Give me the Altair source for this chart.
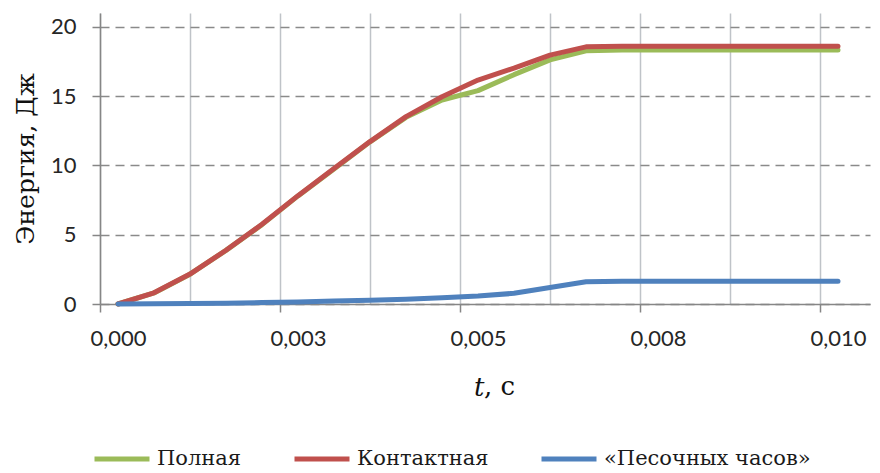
import altair as alt
import pandas as pd

# ---- data ----
t_values = [0.0, 0.0005, 0.001, 0.0015, 0.002, 0.0025, 0.003, 0.0035, 0.004, 0.0045,
            0.005, 0.0055, 0.006, 0.0065, 0.007, 0.0075, 0.008, 0.0085, 0.009, 0.0095, 0.010]
total = [0.0, 0.80, 2.15, 3.87, 5.73, 7.80, 9.75, 11.70, 13.47, 14.72,
         15.40, 16.55, 17.62, 18.27, 18.33, 18.33, 18.33, 18.33, 18.33, 18.33, 18.33]
contact = [0.0, 0.81, 2.16, 3.88, 5.75, 7.82, 9.77, 11.72, 13.52, 14.96,
           16.16, 17.02, 17.96, 18.56, 18.60, 18.60, 18.60, 18.60, 18.60, 18.60, 18.60]
hourglass = [0.0, 0.01, 0.03, 0.06, 0.10, 0.15, 0.21, 0.27, 0.34, 0.45,
             0.58, 0.77, 1.19, 1.61, 1.64, 1.64, 1.64, 1.64, 1.65, 1.65, 1.65]
series_names = ["Полная", "Контактная", "«Песочных часов»"]
series_colors = ["#9BBB59", "#C0504D", "#4F81BD"]
y_ticks = [0, 5, 10, 15, 20]

rows = []
for name, vals in zip(series_names, [total, contact, hourglass]):
    for t, v in zip(t_values, vals):
        rows.append({"t": t, "E": v, "series": name})
df = pd.DataFrame(rows)

# ---- layout ----
W, H = 770, 291
step = 0.0005          # category step of the Excel axis
px_per_step = 36.0
x_min = -step / 2
x_max = x_min + W / px_per_step * step
grid_vals = [x_min + k * step * 2.5 for k in range(9)]
major_test = "round((datum.value + 0.00025) / 0.00125) % 2 == 0"

LABEL_FONT = "Lato"
SERIF = "DejaVu Serif"

color = alt.Color(
    "series:N",
    scale=alt.Scale(domain=series_names, range=series_colors),
    legend=alt.Legend(
        title=None, orient="none", direction="horizontal",
        legendX=-8, legendY=416, padding=0,
        symbolType="stroke", symbolSize=3025, symbolStrokeWidth=5,
        labelFont=SERIF, labelFontSize=21, labelColor="#1a1a1a",
        labelOffset=5, columnPadding=42, labelLimit=400,
    ),
)

x_enc = alt.X(
    "t:Q",
    scale=alt.Scale(domain=[x_min, x_max], nice=False, zero=False),
    axis=alt.Axis(
        values=grid_vals, title="t", titleFont=SERIF, titleFontSize=26,
        titleFontStyle="italic", titleFontWeight="normal", titleColor="#111111",
        titleAlign="right", titleBaseline="alphabetic", titleX=384, titleY=91,
        labelExpr=major_test + " ? replace(format(datum.value + 0.00025 + 1e-9, '.3f'), '.', ',') : ''",
        labelOffset=18, labelFlush=False, labelOverlap=False,
        labelFont=LABEL_FONT, labelFontSize=22, labelColor="#262626", labelPadding=16,
        tickSize=8, tickWidth=1.5, tickColor="#868686",
        tickOpacity={"condition": {"test": major_test, "value": 1}, "value": 0},
        domainColor="#868686", domainWidth=1.5,
        grid=True, gridColor="#bfc3c8", gridWidth=1.5,
    ),
)
y_enc = alt.Y(
    "E:Q",
    scale=alt.Scale(domain=[0, 21], nice=False),
    axis=alt.Axis(
        values=y_ticks, title="Энергия, Дж", titleFont=SERIF, titleFontSize=25,
        titleFontWeight="normal", titleColor="#111111", titleAngle=-90,
        titleAlign="center", titleBaseline="alphabetic", titleX=-67, titleY=H / 2,
        labelFont=LABEL_FONT, labelFontSize=22, labelColor="#262626", labelPadding=16,
        tickSize=8, tickWidth=1.5, tickColor="#868686",
        domainColor="#868686", domainWidth=1.5,
        grid=True, gridColor="#8a8a8a", gridWidth=1.5, gridDash=[9, 6],
    ),
)

base = alt.Chart(df)
layers = []
for name in series_names:
    layers.append(
        base.transform_filter(alt.datum.series == name)
        .mark_line(strokeWidth=5, strokeCap="round", strokeJoin="round")
        .encode(x=x_enc, y=y_enc, color=color)
    )

unit_label = alt.Chart(pd.DataFrame({"txt": [", с"]})).mark_text(
    font=SERIF, fontSize=26, align="left", baseline="alphabetic", color="#111111"
).encode(x=alt.value(384), y=alt.value(H + 91), text="txt:N")

chart = alt.layer(*layers, unit_label).properties(
    width=W, height=H,
    padding={"left": 92, "top": 5, "right": 2, "bottom": 168},
    autosize=alt.AutoSizeParams(type="none"),
).configure_view(strokeWidth=0)

chart.save("out.html", embed_options={"renderer": "svg", "actions": False})
